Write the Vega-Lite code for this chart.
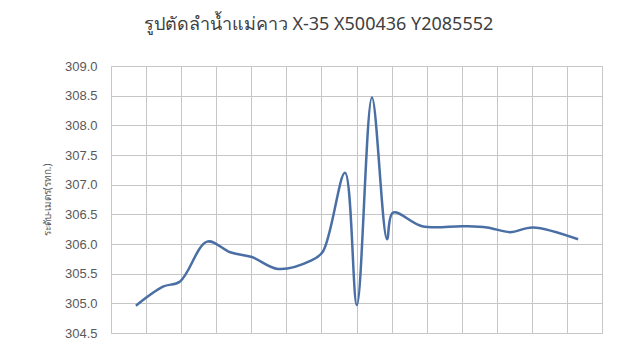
{
  "$schema": "https://vega.github.io/schema/vega-lite/v6.json",
  "autosize": "none",
  "width": 491,
  "height": 267,
  "padding": {"left": 111, "top": 66, "right": 24, "bottom": 9},
  "background": "white",
  "title": {
    "text": "รูปตัดลำน้ำแม่คาว X-35 X500436 Y2085552",
    "fontSize": 18,
    "fontWeight": "normal",
    "font": "Noto Sans",
    "color": "#404040",
    "anchor": "middle",
    "dx": -38,
    "offset": 26
  },
  "data": {
    "values": [
      {"dist": 0.71, "elev": 304.96},
      {"dist": 1.48, "elev": 305.28},
      {"dist": 1.97, "elev": 305.37},
      {"dist": 2.74, "elev": 306.04},
      {"dist": 3.40, "elev": 305.86},
      {"dist": 4.02, "elev": 305.78},
      {"dist": 4.76, "elev": 305.58},
      {"dist": 5.70, "elev": 305.72},
      {"dist": 6.04, "elev": 305.87},
      {"dist": 6.67, "elev": 307.20},
      {"dist": 7.01, "elev": 304.97},
      {"dist": 7.44, "elev": 308.47},
      {"dist": 7.87, "elev": 306.08},
      {"dist": 8.04, "elev": 306.53},
      {"dist": 8.87, "elev": 306.30},
      {"dist": 10.04, "elev": 306.30},
      {"dist": 10.72, "elev": 306.28},
      {"dist": 11.38, "elev": 306.20},
      {"dist": 12.03, "elev": 306.28},
      {"dist": 13.32, "elev": 306.08}
    ]
  },
  "mark": {
    "type": "line",
    "interpolate": "catmull-rom",
    "color": "#4a6fa5",
    "strokeWidth": 2.5
  },
  "encoding": {
    "x": {
      "field": "dist",
      "type": "quantitative",
      "scale": {"domain": [0, 14], "nice": false, "zero": false},
      "axis": {
        "values": [0, 1, 2, 3, 4, 5, 6, 7, 8, 9, 10, 11, 12, 13, 14],
        "labels": false,
        "ticks": false,
        "domain": false,
        "title": null,
        "grid": true,
        "gridColor": "#c6c6c6",
        "gridWidth": 1
      }
    },
    "y": {
      "field": "elev",
      "type": "quantitative",
      "scale": {"domain": [304.5, 309.0], "nice": false, "zero": false},
      "axis": {
        "values": [304.5, 305.0, 305.5, 306.0, 306.5, 307.0, 307.5, 308.0, 308.5, 309.0],
        "format": ".1f",
        "ticks": false,
        "domain": false,
        "grid": true,
        "gridColor": "#c6c6c6",
        "gridWidth": 1,
        "labelFont": "Liberation Sans",
        "labelFontSize": 13,
        "labelColor": "#595959",
        "labelPadding": 14,
        "title": "ระดับ-เมตร(รทก.)",
        "titleFont": "Noto Sans",
        "titleFontSize": 10,
        "titleFontWeight": "normal",
        "titleColor": "#595959",
        "titlePadding": 12
      }
    }
  },
  "config": {
    "view": {"stroke": "#c6c6c6", "strokeWidth": 1}
  }
}
